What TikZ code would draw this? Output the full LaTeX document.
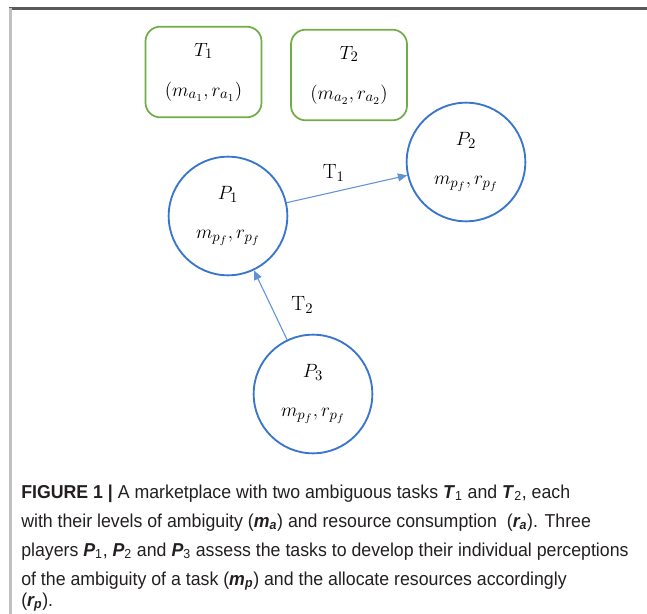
\documentclass[tikz,border=0pt]{standalone}
\usepackage{fontspec}
\newfontfamily\capfont{Liberation Sans}[FakeStretch=0.95]
\usetikzlibrary{arrows.meta, positioning}
\definecolor{taskgreen}{RGB}{112,173,71}
\definecolor{playerblue}{RGB}{58,118,204}
\definecolor{edgeblue}{RGB}{96,146,214}
\definecolor{framedark}{RGB}{90,90,90}
\definecolor{framelight}{RGB}{192,192,192}
\definecolor{captext}{RGB}{35,31,32}
\newcommand{\bi}[1]{\textbf{\textit{#1}}}

\begin{document}
\begin{tikzpicture}[
  x=0.75pt, y=-0.75pt,
  task/.style={draw=taskgreen, line width=1.3pt, rounded corners=11pt,
               minimum width=87pt, minimum height=68pt, align=center,
               font=\fontsize{15.5}{17}\selectfont},
  player/.style={circle, draw=playerblue, line width=1.4pt,
                 minimum size=89pt, inner sep=0pt, align=center,
                 font=\fontsize{15.5}{17}\selectfont},
  flow/.style={-{Triangle[length=7pt, width=6pt]}, edgeblue, line width=0.8pt},
  lbl/.style={text=black, font=\fontsize{15.5}{17}\selectfont}
]
\useasboundingbox (0,0) rectangle (647,614);
% frame of the figure
\draw[framedark, line width=1.6pt] (9,8.5) -- (647,8.5);
\draw[framelight, line width=1.6pt] (10.5,8) -- (10.5,614);

% tasks
\node[task] (t1) at (203.5,72) {$T_1$\\[13pt]$(m_{a_1},r_{a_1})$};
\node[task] (t2) at (349,75) {$T_2$\\[13pt]$(m_{a_2},r_{a_2})$};

% players
\node[player] (p1) at (228,216) {$P_1$\\[12pt]$m_{p_f},r_{p_f}$};
\node[player] (p2) at (466,162) {$P_2$\\[12pt]$m_{p_f},r_{p_f}$};
\node[player] (p3) at (313,394) {$P_3$\\[12pt]$m_{p_f},r_{p_f}$};

\draw[flow] (p1) -- (p2)
  node[midway, above, lbl, xshift=-10pt, yshift=2pt] {$\mathrm{T}_1$};
\draw[flow] (p3) -- (p1)
  node[midway, right, lbl, xshift=12pt] {$\mathrm{T}_2$};

% caption
\node[anchor=base west, align=left, inner sep=0pt, text=captext,
      font=\capfont\fontsize{14}{21.75}\selectfont] (cap) at (21,606)
  {\textbf{FIGURE 1 |} A marketplace with two ambiguous tasks \bi{T}\textsubscript{1} and \bi{T}\textsubscript{2}, each\\
   with their levels of ambiguity (\bi{m\textsubscript{a}}) and resource consumption\ \ (\bi{r\textsubscript{a}}). Three\\
   players \bi{P}\textsubscript{1}, \bi{P}\textsubscript{2} and \bi{P}\textsubscript{3} assess the tasks to develop their individual perceptions\\
   of the ambiguity of a task (\bi{m\textsubscript{p}}) and the allocate resources accordingly\\[-6pt]
   (\bi{r\textsubscript{p}}).};
\end{tikzpicture}
\end{document}
